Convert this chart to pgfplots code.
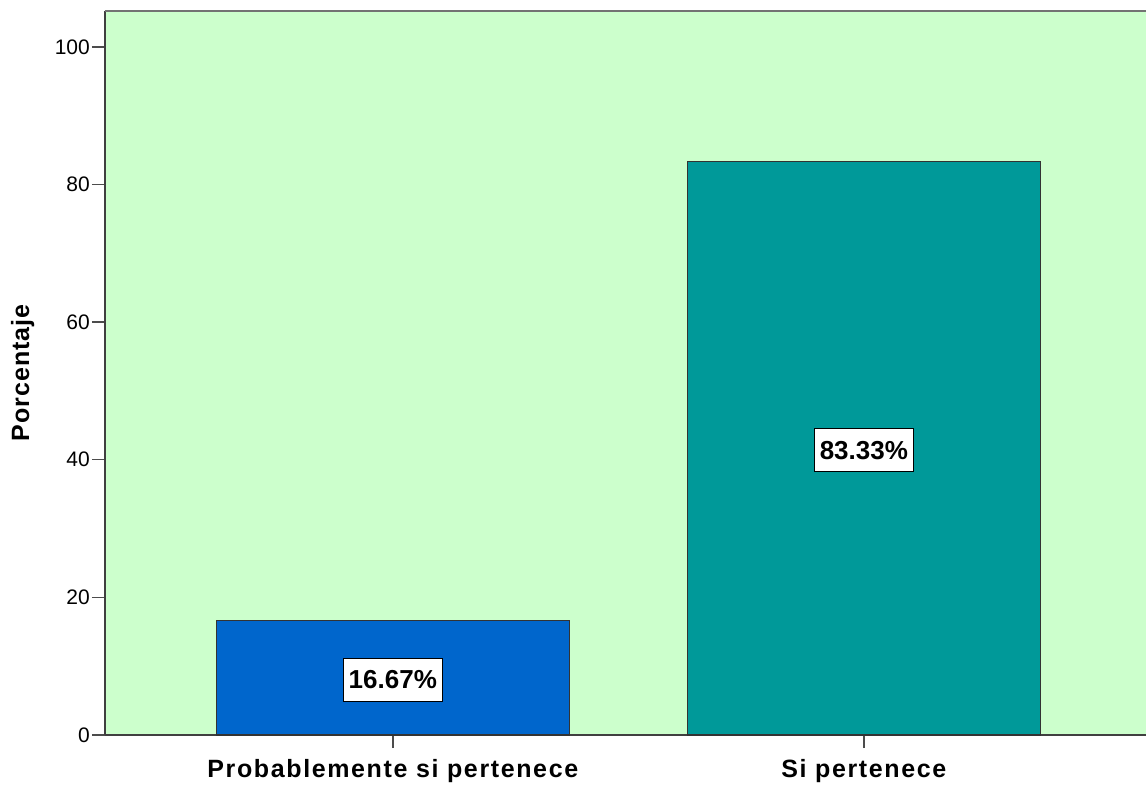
\documentclass[border=0pt]{standalone}
\usepackage{fontspec}
\setmainfont{Liberation Sans}
\newfontfamily\lblfont{Liberation Sans}[LetterSpace=6.5]
\newfontfamily\ylblfont{Liberation Sans}[LetterSpace=4]
\usepackage{pgfplots}
\pgfplotsset{compat=1.18}
\definecolor{bg}{HTML}{CCFFCC}
\definecolor{barblue}{HTML}{0066CC}
\definecolor{barteal}{HTML}{009999}
\begin{document}
\begin{tikzpicture}
\begin{axis}[
  scale only axis, width=1041pt, height=724pt,
  xmin=-0.611, xmax=1.599, ymin=0, ymax=105.2,
  axis background/.style={fill=bg},
  axis x line*=bottom, axis y line*=left,
  axis line style={draw=black!75, line width=1.5pt},
  ybar, bar width=353pt, bar shift=0pt,
  xtick={0,1}, xticklabels={Probablemente si pertenece, Si pertenece},
  ytick={0,20,40,60,80,100},
  tick align=outside, major tick length=13pt,
  tick style={draw=black!70, line width=1.5pt},
  /pgf/number format/assume math mode=true,
  yticklabel style={font=\fontsize{21}{24}\selectfont, inner sep=2pt},
  xticklabel style={font=\lblfont\bfseries\fontsize{25}{29}\selectfont, inner sep=0pt, yshift=-11pt},
  ylabel={Porcentaje},
  ylabel style={font=\ylblfont\bfseries\fontsize{25}{29}\selectfont, at={(axis description cs:-0.079,0.5)}, anchor=center},
  point meta=explicit symbolic,
  nodes near coords,
  visualization depends on={y \as \rawy},
  every node near coord/.append style={font=\bfseries\fontsize{26}{30}\selectfont, fill=white, draw=black, line width=1.2pt, inner xsep=5.5pt, inner ysep=0pt, minimum height=43pt, anchor=center, yshift=-2pt, shift={(axis direction cs:0,-\rawy/2)}},
]
\addplot[fill=barblue, draw=black!80, line width=1.2pt] coordinates {(0,16.67) [16.67\%]};
\addplot[fill=barteal, draw=black!80, line width=1.2pt] coordinates {(1,83.33) [83.33\%]};
\draw[black!55, line width=2pt] (rel axis cs:0,1) -- (rel axis cs:1,1);
\end{axis}
\pgfresetboundingbox
\path ([shift={(-105pt,-54pt)}]current axis.south west) rectangle ([shift={(0pt,11pt)}]current axis.north east);
\end{tikzpicture}
\end{document}
